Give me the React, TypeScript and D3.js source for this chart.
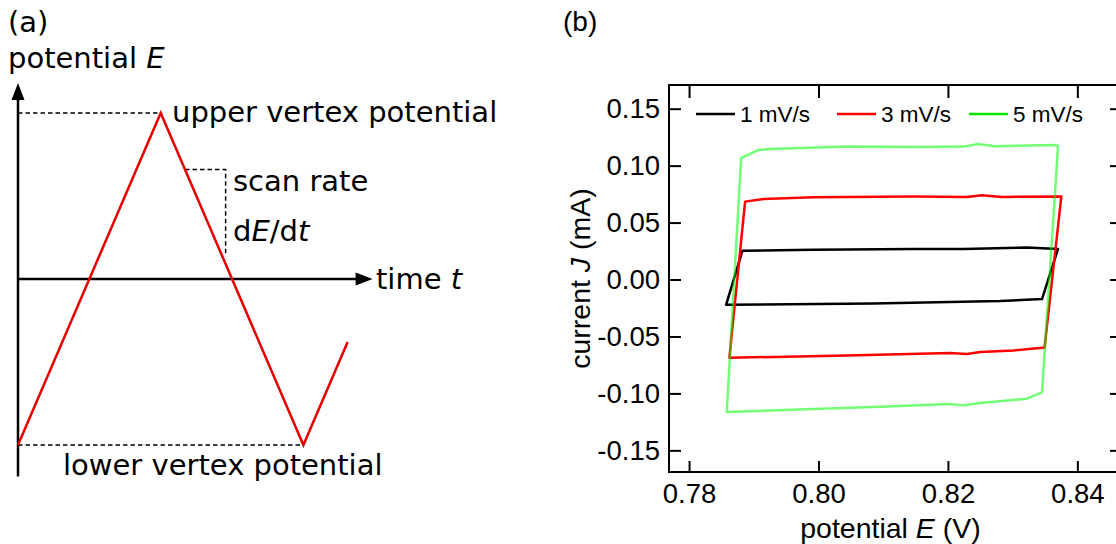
import React, { useEffect, useRef } from "react";
import * as d3 from "d3";

// ---- Panel (a): schematic triangular potential waveform ----
const waveTime = [0, 1, 2, 2.31];
const wavePotential = [-1, 1, -1, -0.38];
const upperVertex = 1;
const lowerVertex = -1;
const timeAxisEnd = 2.485;
const potentialAxisTop = 1.18;
const potentialAxisBottom = -1.19;
const slopeMarkTime = [1.17, 1.455];
const slopeMarkPotential = [0.66, 0.135];

// ---- Panel (b): cyclic voltammograms at three scan rates ----
const scanRates = ["1 mV/s", "3 mV/s", "5 mV/s"];
const seriesColors = ["#000000", "#ff0000", "#00ff00"];
const legendColors = ["#000000", "#ff0000", "#00e600"];

const potential1 = [0.78824, 0.79922, 0.81468, 0.82242, 0.83222, 0.83701, 0.83454, 0.82809, 0.8085, 0.78572];
const current1 = [0.0252, 0.0261, 0.0269, 0.0267, 0.0281, 0.0269, -0.0172, -0.0189, -0.0211, -0.0222];

const potential3 = [0.78866, 0.79149, 0.79922, 0.81468, 0.82294, 0.82526, 0.82835, 0.83752, 0.83494, 0.83015, 0.825, 0.82294, 0.82036, 0.80439, 0.78623];
const current3 = [0.0684, 0.0708, 0.0723, 0.0728, 0.0725, 0.074, 0.0725, 0.0728, -0.0596, -0.0623, -0.0637, -0.0654, -0.0646, -0.0667, -0.0687];

const potential5 = [0.78804, 0.79056, 0.79253, 0.80439, 0.81521, 0.82242, 0.82464, 0.82732, 0.83675, 0.83701, 0.83454, 0.83222, 0.825, 0.82242, 0.82036, 0.80953, 0.78583];
const current5 = [0.1065, 0.1135, 0.1146, 0.1167, 0.1164, 0.1167, 0.119, 0.117, 0.1182, 0.1167, -0.0991, -0.1046, -0.1084, -0.1105, -0.1093, -0.1117, -0.1163];

const xTicks = [0.78, 0.8, 0.82, 0.84];
const yTicks = [-0.15, -0.1, -0.05, 0, 0.05, 0.1, 0.15];

const W = 1116;
const H = 544;

const SANS_A = "'DejaVu Sans', sans-serif";
const SANS_B = "'Liberation Sans', Arial, sans-serif";

export default function App() {
  const leftAxisRef = useRef<SVGGElement>(null);
  const bottomAxisRef = useRef<SVGGElement>(null);
  const topAxisRef = useRef<SVGGElement>(null);
  const rightAxisRef = useRef<SVGGElement>(null);

  // panel (a) scales
  const xA = d3.scaleLinear().domain([0, 1]).range([18, 160.7]);
  const yA = d3.scaleLinear().domain([lowerVertex, upperVertex]).range([445, 113]);
  const wavePath = d3.line<number>()
    .x((_, i) => xA(waveTime[i]))
    .y((d) => yA(d))(wavePotential) as string;

  // panel (b) scales
  const frame = { left: 669, right: 1122, top: 85, bottom: 472 };
  const x = d3.scaleLinear().domain([0.7769, 0.8469]).range([frame.left, frame.right]);
  const y = d3.scaleLinear().domain([-0.169, 0.1708]).range([frame.bottom, frame.top]);

  const loop = d3.line<[number, number]>()
    .x((d) => x(d[0]))
    .y((d) => y(d[1]))
    .curve(d3.curveLinearClosed);

  const series = [
    { p: potential1, c: current1 },
    { p: potential3, c: current3 },
    { p: potential5, c: current5 },
  ].map((s) => s.p.map((v, i) => [v, s.c[i]] as [number, number]));

  useEffect(() => {
    const fmt = (d: d3.NumberValue) => (+d).toFixed(2);
    const style = (g: d3.Selection<SVGGElement, unknown, null, undefined>, showText: boolean) => {
      g.select(".domain").remove();
      g.selectAll(".tick line").attr("stroke", "#000").attr("stroke-width", 2);
      g.selectAll(".tick text")
        .attr("fill", "#000")
        .style("font-family", SANS_B)
        .style("font-size", "27.5px")
        .style("display", showText ? null : "none");
    };
    if (leftAxisRef.current) {
      const g = d3.select(leftAxisRef.current);
      g.call(d3.axisLeft(y).tickValues(yTicks).tickFormat(fmt).tickSize(-12).tickPadding(9));
      style(g, true);
    }
    if (bottomAxisRef.current) {
      const g = d3.select(bottomAxisRef.current);
      g.call(d3.axisBottom(x).tickValues(xTicks).tickFormat(fmt).tickSize(-11).tickPadding(11));
      style(g, true);
    }
    if (topAxisRef.current) {
      const g = d3.select(topAxisRef.current);
      g.call(d3.axisTop(x).tickValues(xTicks).tickSize(-13));
      style(g, false);
    }
    if (rightAxisRef.current) {
      const g = d3.select(rightAxisRef.current);
      g.call(d3.axisRight(y).tickValues(yTicks).tickSize(-12));
      style(g, false);
    }
  }, []);

  const legendX = [696, 837, 969];
  const legendY = 114;

  return (
    <svg
      width={W}
      height={H}
      style={{ position: "absolute", left: 0, top: 0, background: "#fff" }}
    >
      {/* ---------- panel (a) ---------- */}
      <g fontFamily={SANS_A} fontSize={29} fill="#000">
        <text x={8} y={32}>(a)</text>
        <text x={8} y={68}>
          potential <tspan fontStyle="italic">E</tspan>
        </text>

        {/* vertex guides */}
        <line x1={xA(0)} x2={xA(waveTime[1])} y1={yA(upperVertex)} y2={yA(upperVertex)}
          stroke="#000" strokeWidth={1.5} strokeDasharray="4.5,3" />
        <line x1={xA(0)} x2={xA(waveTime[2])} y1={yA(lowerVertex)} y2={yA(lowerVertex)}
          stroke="#000" strokeWidth={1.5} strokeDasharray="4.5,3" />

        {/* slope marker */}
        <polyline
          points={`${xA(slopeMarkTime[0])},${yA(slopeMarkPotential[0])} ${xA(slopeMarkTime[1])},${yA(slopeMarkPotential[0])} ${xA(slopeMarkTime[1])},${yA(slopeMarkPotential[1])}`}
          fill="none" stroke="#000" strokeWidth={1.5} strokeDasharray="4.5,3" />

        {/* axes */}
        <line x1={xA(0)} x2={xA(0)} y1={yA(potentialAxisBottom)} y2={yA(potentialAxisTop) + 14}
          stroke="#000" strokeWidth={2.5} />
        <path d={`M${xA(0)},${yA(potentialAxisTop)} l-6.5,17 l13,0 z`} fill="#000" />
        <line x1={xA(0)} x2={xA(timeAxisEnd) - 14} y1={yA(0)} y2={yA(0)}
          stroke="#000" strokeWidth={2.5} />
        <path d={`M${xA(timeAxisEnd)},${yA(0)} l-17,-6.5 l0,13 z`} fill="#000" />

        <path d={wavePath} fill="none" stroke="#e60000" strokeWidth={2.5} strokeLinejoin="miter" />

        <text x={172} y={121.5}>upper vertex potential</text>
        <text x={233} y={190.5}>scan rate</text>
        <text x={233} y={240.5}>
          d<tspan fontStyle="italic">E</tspan>/d<tspan fontStyle="italic">t</tspan>
        </text>
        <text x={376} y={289}>
          time <tspan fontStyle="italic">t</tspan>
        </text>
        <text x={63} y={474.5}>lower vertex potential</text>
      </g>

      {/* ---------- panel (b) ---------- */}
      <g fontFamily={SANS_B} fill="#000">
        <text x={563} y={31} fontSize={28}>(b)</text>

        {series.map((s, i) => (
          <path
            key={scanRates[i]}
            d={loop(s) as string}
            fill="none"
            stroke={seriesColors[i]}
            strokeOpacity={i === 2 ? 0.55 : 1}
            strokeWidth={2.5}
            strokeLinejoin="round"
          />
        ))}

        <rect x={frame.left} y={frame.top} width={frame.right - frame.left} height={frame.bottom - frame.top}
          fill="none" stroke="#000" strokeWidth={2} />
        <g ref={leftAxisRef} transform={`translate(${frame.left},0)`} />
        <g ref={bottomAxisRef} transform={`translate(0,${frame.bottom})`} />
        <g ref={topAxisRef} transform={`translate(0,${frame.top})`} />
        <g ref={rightAxisRef} transform={`translate(${frame.right},0)`} />

        {scanRates.map((name, i) => (
          <g key={name}>
            <line x1={legendX[i]} x2={legendX[i] + 39} y1={legendY} y2={legendY}
              stroke={legendColors[i]} strokeWidth={2.5} />
            <text x={legendX[i] + 44} y={legendY + 8} fontSize={22.5}>{name}</text>
          </g>
        ))}

        <text x={(frame.left + frame.right) / 2 - 5} y={538} fontSize={28.5} textAnchor="middle">
          potential <tspan fontStyle="italic">E</tspan> (V)
        </text>
        <text
          transform={`translate(590,${(frame.top + frame.bottom) / 2}) rotate(-90)`}
          fontSize={28.5}
          textAnchor="middle"
        >
          current <tspan fontStyle="italic">J</tspan> (mA)
        </text>
      </g>
    </svg>
  );
}
